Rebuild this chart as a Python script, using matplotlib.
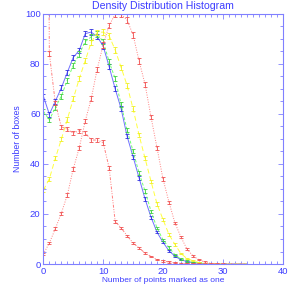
import numpy as np
import matplotlib
matplotlib.use("Agg")
import matplotlib.pyplot as plt
from matplotlib.ticker import MultipleLocator

plt.rcParams['font.family'] = ['Liberation Sans', 'DejaVu Sans']

# данные (x = 0..34)
X = list(range(35))

blue = [67, 59.8, 65, 70.3, 76.5, 82.5, 85.3, 92, 92.6, 90.8, 87, 78.8, 70, 62, 51, 42.8,
        34.4, 26, 18.7, 12.7, 8.7, 5.3, 3.1, 1.7, 1.0, 0.5, 0.3, 0.15, 0.1, 0.05,
        0, 0, 0, 0, 0]
green = [61, 57.5, 62.5, 67, 73.4, 79.4, 83.8, 88.8, 90.7, 91.8, 88.8, 80.8, 74, 63.7, 53.5, 45,
         36.4, 29.1, 21.1, 14.4, 9.7, 6.6, 3.7, 2.0, 1.2, 0.7, 0.4, 0.2, 0.1, 0.05,
         0, 0, 0, 0, 0]
yellow = [29.5, 34, 42.2, 49.8, 57.7, 66, 74, 81.2, 88.5, 92.5, 92.6, 91.1, 85.5, 78.5, 71.3, 62,
          51.5, 42.2, 33, 24, 17.8, 11.8, 7.8, 4.2, 2.2, 1.3, 0.6, 0.3, 0.15, 0.05,
          0, 0, 0, 0, 0]
red_rise = [4, 8.4, 14.1, 20.3, 27.5, 38, 46.4, 57.1, 66, 77.8, 87.5, 95.3, 99.7, 99.7, 97.4, 91.5,
            81.1, 71.8, 58.7, 46.4, 34, 24.7, 16.4, 10.8, 6, 3.3, 1.7, 0.8, 0.3, 0.1,
            0.05, 0, 0, 0, 0]
red_drop = [500, 84, 64.3, 54.8, 53.8, 52.3, 53.2, 52.4, 49.5, 49.5, 48.5, 38.4, 17.1, 14.4, 11.3, 8.4,
            6.4, 4.4, 3.0, 1.8, 1.2, 0.8, 0.5, 0.3, 0.2, 0.1, 0.05, 0,
            0, 0, 0, 0, 0, 0, 0]

TITLE = "Density Distribution Histogram"
XLABEL = "Number of points marked as one"
YLABEL = "Number of boxes"

AX_COLOR = "#8080ff"
TXT_COLOR = "#3c3cff"

series = [
    (blue, "#7070ff", "#3030e0", "-"),
    (green, "#70ff70", "#40d040", (0, (3, 2))),
    (yellow, "#ffff40", "#f0f020", (0, (5, 3))),
    (red_rise, "#ff8080", "#f05050", (0, (1, 1.5))),
    (red_drop, "#ff8080", "#f05050", (0, (3, 1.5, 1, 1.5, 1, 1.5))),
]

fig = plt.figure(figsize=(2.95, 2.95), dpi=100)
ax = fig.add_axes([0.147, 0.105, 0.811, 0.849])

for vals, lc, ec, ls in series:
    y = np.array(vals, dtype=float)
    err = 0.1 * np.sqrt(y) + 0.15
    ax.plot(X, y, color=lc, linestyle=ls, linewidth=0.7)
    ax.errorbar(X, y, yerr=err, fmt="none", ecolor=ec, elinewidth=0.6,
                capsize=1.1, capthick=0.6)

ax.set_xlim(0, 40)
ax.set_ylim(0, 100)
ax.xaxis.set_major_locator(MultipleLocator(10))
ax.xaxis.set_minor_locator(MultipleLocator(1))
ax.yaxis.set_major_locator(MultipleLocator(20))
ax.yaxis.set_minor_locator(MultipleLocator(5))

for s in ax.spines.values():
    s.set_color(AX_COLOR)
    s.set_linewidth(0.8)
ax.tick_params(which="both", direction="in", top=True, right=True,
               color=AX_COLOR, labelcolor=TXT_COLOR, labelsize=6.8, width=0.6, pad=2)
ax.tick_params(which="major", length=3.6)
ax.tick_params(which="minor", length=2)

ax.set_title(TITLE, color=TXT_COLOR, fontsize=7.6, pad=3)
ax.set_xlabel(XLABEL, color=TXT_COLOR, fontsize=6, labelpad=1)
ax.set_ylabel(YLABEL, color=TXT_COLOR, fontsize=6.3, labelpad=2)

fig.savefig("out.png", dpi=100)
plt.close(fig)
